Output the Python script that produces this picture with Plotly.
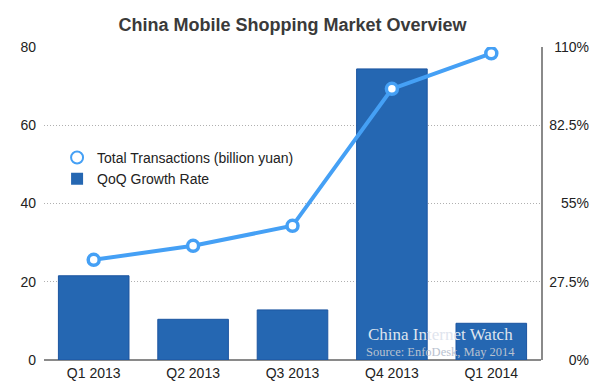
import plotly.graph_objects as go

quarters = ["Q1 2013", "Q2 2013", "Q3 2013", "Q4 2013", "Q1 2014"]
transactions = [25.6, 29.2, 34.3, 69.3, 78.4]      # billion yuan (left axis)
qoq_growth = [29.6, 14.3, 17.6, 102.3, 12.9]        # % (right axis)
left_ticks = [0, 20, 40, 60, 80]
right_ticks = [0, 27.5, 55, 82.5, 110]
right_tick_labels = ["0%", "27.5%", "55%", "82.5%", "110%"]

FONT = "Liberation Sans, Arial, Helvetica, sans-serif"
LINE_C = "#45a0f5"
BAR_C = "#2567b2"

fig = go.Figure()
# bars on primary (hidden-label) axis so the line overlay sits on top
fig.add_trace(go.Bar(
    x=quarters, y=qoq_growth, yaxis="y", name="QoQ Growth Rate",
    marker=dict(color=BAR_C, line=dict(color="#1c55a0", width=1)),
    width=0.71, showlegend=False))
fig.add_trace(go.Scatter(
    x=quarters, y=transactions, yaxis="y2", mode="lines+markers",
    line=dict(color=LINE_C, width=4),
    marker=dict(size=11, color="white", line=dict(color=LINE_C, width=3.5)),
    showlegend=False))
# legend entries
fig.add_trace(go.Scatter(
    x=[None], y=[None], mode="markers", name="Total Transactions (billion yuan)",
    marker=dict(size=8, color="white", line=dict(color=LINE_C, width=3))))
fig.add_trace(go.Scatter(
    x=[None], y=[None], mode="markers", name="QoQ Growth Rate",
    marker=dict(size=13, symbol="square", color=BAR_C)))
# invisible trace for right-aligned tick label axis
fig.add_trace(go.Scatter(x=[quarters[0]], y=[0], yaxis="y3", mode="markers",
                         marker=dict(opacity=0), showlegend=False, hoverinfo="skip"))

L, R, T, B = 44, 11, 47, 31
W = 600 - L - R
H = 391 - T - B
plot_right = 541
dom_end = (plot_right - L) / W

fig.update_layout(
    width=600, height=391,
    margin=dict(l=L, r=R, t=T, b=B),
    paper_bgcolor="white", plot_bgcolor="white",
    font=dict(family=FONT, size=14, color="#222"),
    title=dict(text="<b>China Mobile Shopping Market Overview</b>",
               x=(L + (plot_right - L) / 2) / 600, xref="container", xanchor="center",
               y=1 - 25 / 391, yref="container", yanchor="middle",
               font=dict(family=FONT, size=18, color="#3a3a3a")),
    xaxis=dict(domain=[0, dom_end], showgrid=False, showline=False, ticks="",
               ticklabelstandoff=3,
               tickfont=dict(size=14, color="#222"), fixedrange=True),
    yaxis=dict(range=[0, 110], tickvals=right_ticks, side="right",
               showgrid=True, gridcolor="#b0b0b0", griddash="1px,2px", gridwidth=1,
               zeroline=True, zerolinecolor="#8a8a8a", zerolinewidth=1.5,
               showline=True, linecolor="#8a8a8a", linewidth=1.5,
               showticklabels=False, ticks=""),
    yaxis2=dict(range=[0, 80], tickvals=left_ticks, overlaying="y", side="left",
                anchor="x", showgrid=False, zeroline=False, showline=False,
                ticks="", ticklabelstandoff=7,
                tickfont=dict(size=14, color="#222")),
    yaxis3=dict(range=[0, 110], overlaying="y", side="left", anchor="free",
                position=1.0, showgrid=False, zeroline=False, showline=False,
                automargin=False,
                tickvals=right_ticks, ticktext=right_tick_labels, ticks="",
                ticklabelstandoff=0,
                tickfont=dict(size=14, color="#222")),
    legend=dict(x=0.024, y=0.697, xanchor="left", yanchor="top",
                bgcolor="rgba(0,0,0,0)", font=dict(size=14, color="#222"),
                tracegroupgap=0, itemsizing="constant"),
    barmode="overlay",
)

fig.add_annotation(text="China Internet Watch", xref="paper", yref="paper",
                   x=(440 - L) / W, y=(360 - 334) / H, xanchor="center", yanchor="middle",
                   showarrow=False,
                   font=dict(family="Liberation Serif, Times New Roman, serif", size=17,
                             color="#dfe5ee"))
fig.add_annotation(text="Source: EnfoDesk, May 2014", xref="paper", yref="paper",
                   x=(440 - L) / W, y=(360 - 352) / H, xanchor="center", yanchor="middle",
                   showarrow=False,
                   font=dict(family="Liberation Serif, Times New Roman, serif", size=12.5,
                             color="#b9c2d0"))

fig.write_html("out.html", config={"displayModeBar": False},
               post_script="document.body.style.margin='0';")
